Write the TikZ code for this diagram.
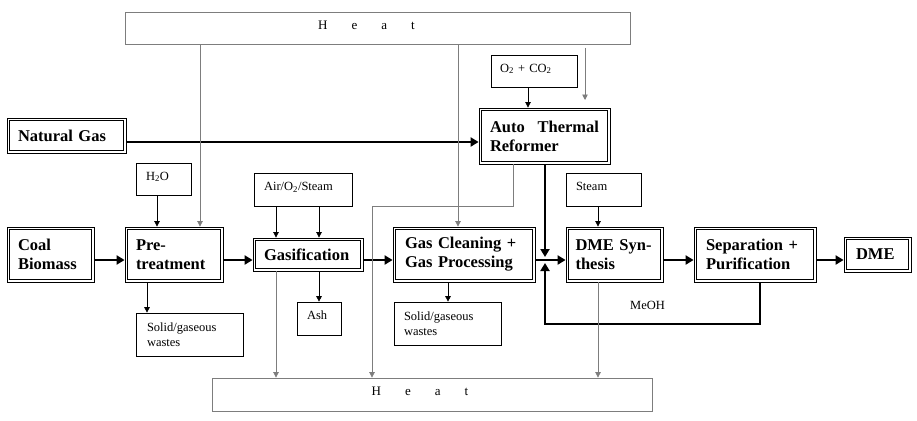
\documentclass[tikz,border=0pt]{standalone}
\usepackage{fontspec}
\setmainfont{Liberation Serif}
\usetikzlibrary{arrows.meta,calc}
\definecolor{hg}{RGB}{125,125,125}
\begin{document}
\begin{tikzpicture}[x=1pt,y=-1pt,
  big/.style={font=\fontsize{16.5}{19}\selectfont\bfseries},
  small/.style={font=\fontsize{12.5}{15}\selectfont},
  dbox/.style={draw, line width=0.8pt, big, align=left, inner xsep=0pt, inner ysep=0pt,
    path picture={\draw[line width=1.5pt] ([shift={(2.7pt,2.7pt)}]path picture bounding box.south west) rectangle ([shift={(-2.7pt,-2.7pt)}]path picture bounding box.north east);}},
  sbox/.style={draw, line width=0.7pt, small, align=left, inner xsep=0pt, inner ysep=0pt},
  hbox/.style={draw=hg, line width=0.8pt, font=\fontsize{13}{15}\selectfont, text depth=6pt, inner sep=0pt},
  thk/.style={line width=2.6pt, -{Triangle[length=8pt,width=9pt]}},
  thn/.style={line width=0.7pt, -{Triangle[length=5.5pt,width=5.5pt]}},
  hl/.style={hg, line width=0.7pt, -{Triangle[length=5.5pt,width=5.5pt]}}
]
\useasboundingbox (0,0) rectangle (917,420);

% heat boxes
\node[hbox, minimum width=505, minimum height=32] (heattop) at (377.5,28)
  {H\hspace{24pt}e\hspace{24pt}a\hspace{24pt}t\hspace*{22pt}};
\node[hbox, minimum width=440, minimum height=33] (heatbot) at (432,394.5)
  {H\hspace{24pt}e\hspace{24pt}a\hspace{24pt}t\hspace*{24pt}};

% main boxes
\node[dbox, minimum width=119, minimum height=35, text width=97] (ng) at (66.5,135.5) {Natural Gas};
\node[dbox, minimum width=131, minimum height=56, text width=109] (atr) at (544.5,136) {Auto\hfill Thermal\\Reformer};
\node[dbox, minimum width=87, minimum height=55, text width=65] (coal) at (50.5,254.5) {Coal\\Biomass};
\node[dbox, minimum width=98, minimum height=55, text width=76] (pre) at (174,254.5) {Pre-\\treatment};
\node[dbox, minimum width=110, minimum height=33, text width=88] (gas) at (308,254.5) {Gasification};
\node[dbox, minimum width=142, minimum height=55, text width=118] (gc) at (464,254.5) {Gas Cleaning +\\Gas Processing};
\node[dbox, minimum width=97, minimum height=55, text width=78] (dme) at (614.5,254.5) {\mbox{DME Syn-}\\thesis};
\node[dbox, minimum width=122, minimum height=55, text width=98] (sep) at (755,254.5) {Separation +\\Purification};
\node[dbox, minimum width=67, minimum height=35, text width=43] (dmeo) at (877.5,254.5) {DME};

% small boxes
\node[sbox, minimum width=86, minimum height=32, text width=68, text depth=6pt] (o2) at (534,71) {O\textsubscript{2} + CO\textsubscript{2}};
\node[sbox, minimum width=55, minimum height=32, text width=35, text depth=6pt] (h2o) at (163.5,179) {H\textsubscript{2}O};
\node[sbox, minimum width=98, minimum height=33, text width=78, text depth=6pt] (air) at (303,189.5) {Air/O\textsubscript{2}/Steam};
\node[sbox, minimum width=75, minimum height=33, text width=55, text depth=6pt] (steam) at (603.5,189.5) {Steam};
\node[sbox, minimum width=44, minimum height=33, text width=24, text depth=6pt] (ash) at (319,318.5) {Ash};
\node[sbox, minimum width=107, minimum height=43, text width=85] (sw1) at (189.5,334.5) {Solid/gaseous\\wastes};
\node[sbox, minimum width=107, minimum height=43, text width=87] (sw2) at (447.5,323.5) {Solid/gaseous\\wastes};
\node[small, inner sep=0pt] (meoh) at (647.5,305) {MeOH};

% helper coordinates
\coordinate (r) at (0,260);
\coordinate (ngy) at (0,142);
\coordinate (j) at (545,260);
\coordinate (loop) at (760,324);
\coordinate (t1) at (200,0);
\coordinate (t2) at (458,0);
\coordinate (f1) at (585,48);
\coordinate (f2) at (585,100);
\coordinate (a1) at (157,0);
\coordinate (a2) at (276,0);
\coordinate (a3) at (319,0);
\coordinate (a4) at (147,0);
\coordinate (a5) at (448,0);
\coordinate (a6) at (528,0);
\coordinate (a7) at (598,0);
\coordinate (g1) at (513,206);
\coordinate (g2) at (372,206);

% thick main flow
\draw[thk] (ng.east |- ngy) -- (atr.west |- ngy);
\draw[thk] (coal.east |- r) -- (pre.west |- r);
\draw[thk] (pre.east |- r) -- (gas.west |- r);
\draw[thk] (gas.east |- r) -- (gc.west |- r);
\draw[thk] (gc.east |- r) -- (dme.west |- r);
\draw[thk] (dme.east |- r) -- (sep.west |- r);
\draw[thk] (sep.east |- r) -- (dmeo.west |- r);
\draw[thk] (atr.south -| j) -- ([yshift=3pt]j);
\draw[thk] (sep.south -| loop) -- (loop) -| ([yshift=-3pt]j);

% thin black inputs/outputs
\draw[thn] (o2.south -| a6) -- (atr.north -| a6);
\draw[thn] (h2o.south -| a1) -- (pre.north -| a1);
\draw[thn] (air.south -| a2) -- (gas.north -| a2);
\draw[thn] (air.south -| a3) -- (gas.north -| a3);
\draw[thn] (gas.south -| a3) -- (ash.north -| a3);
\draw[thn] (pre.south -| a4) -- (sw1.north -| a4);
\draw[thn] (gc.south -| a5) -- (sw2.north -| a5);
\draw[thn] (steam.south -| a7) -- (dme.north -| a7);

% heat lines
\draw[hl] (heattop.south -| t1) -- (pre.north -| t1);
\draw[hl] (heattop.south -| t2) -- (gc.north -| t2);
\draw[hl] (f1) -- (f2);
\draw[hl] (gas.south -| a2) -- (heatbot.north -| a2);
\draw[hl] (atr.south -| g1) -- (g1) -- (g2) -- (g2 |- heatbot.north);
\draw[hl] (dme.south -| a7) -- (heatbot.north -| a7);
\end{tikzpicture}
\end{document}
